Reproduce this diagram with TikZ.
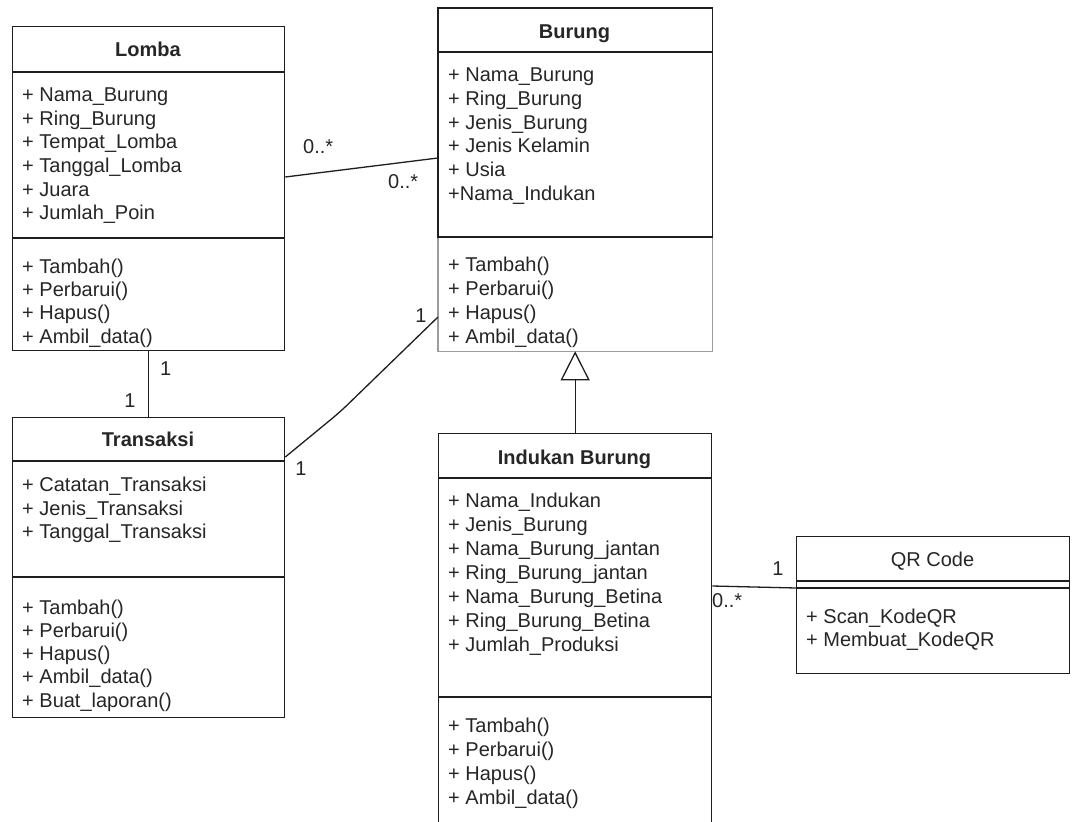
\documentclass[tikz,border=0pt]{standalone}
\usepackage{fontspec}
\setmainfont{Liberation Sans}
\usetikzlibrary{arrows.meta}
\definecolor{ink}{HTML}{1E1E1E}
\definecolor{soft}{HTML}{9C9C9C}
\definecolor{txt}{HTML}{262626}
\tikzset{
  box/.style={draw=ink, line width=1.3pt, inner sep=0pt, anchor=north west},
  sep/.style={draw=ink, line width=1.3pt},
  cname/.style={font=\fontsize{20}{24}\selectfont\bfseries, text=txt, inner sep=0pt, anchor=base},
  plainname/.style={font=\fontsize{20}{24}\selectfont, text=txt, inner sep=0pt, anchor=base},
  member/.style={font=\fontsize{20}{24}\selectfont, text=txt, anchor=base west, inner sep=0pt},
  mult/.style={font=\fontsize{20}{24}\selectfont, text=txt, inner sep=0pt},
  assoc/.style={draw=ink, line width=1.3pt},
  inherit/.style={draw=ink, line width=1.3pt, -{Triangle[open, length=29pt, width=29pt]}},
}
% one text line per member, stacked on fixed baselines
\newcommand\memberlist[5]{%
  \foreach \entry [count=\i] in {#5}
    \node[member] (#1\i) at (#2, {#3+#4*(\i-1)}) {\entry};}

\begin{document}
\begin{tikzpicture}[x=1pt, y=-1pt]
\useasboundingbox (0,0) rectangle (1072,822);
\fill[white] (0,0) rectangle (1072,822);
\clip (0,0) rectangle (1072,822);

% ---- Lomba ----
\node[box, minimum width=272pt, minimum height=324pt] (lomba) at (12,26) {};
\draw[sep] ([yshift=-46pt]lomba.north west) -- ([yshift=-46pt]lomba.north east);
\draw[sep] ([yshift=-212pt]lomba.north west) -- ([yshift=-212pt]lomba.north east);
\node[cname] (lomba-title) at (148,56) {Lomba};
\memberlist{lomba-a}{22}{101.7}{23.6}{+ Nama\_Burung, + Ring\_Burung, + Tempat\_Lomba, + Tanggal\_Lomba, + Juara, + Jumlah\_Poin}
\memberlist{lomba-m}{22}{273.3}{23.3}{+ Tambah(), + Perbarui(), + Hapus(), + Ambil\_data()}

% ---- Burung ----
\node[box, draw=none, minimum width=273pt, minimum height=342pt] (burung) at (438,8) {};
\draw[soft, line width=1.3pt] ([yshift=-229pt]burung.north west) rectangle (burung.south east);
\draw[sep] (burung.north west) rectangle ([yshift=-229pt]burung.north east);
\draw[sep] ([yshift=-44pt]burung.north west) -- ([yshift=-44pt]burung.north east);
\node[cname] (burung-title) at (574.5,38.5) {Burung};
\memberlist{burung-a}{448}{81.7}{23.7}{+ Nama\_Burung, + Ring\_Burung, + Jenis\_Burung, + Jenis Kelamin, + Usia, +Nama\_Indukan}
\memberlist{burung-m}{448}{271.7}{23.9}{+ Tambah(), + Perbarui(), + Hapus(), + Ambil\_data()}

% ---- Transaksi ----
\node[box, minimum width=272pt, minimum height=300pt] (transaksi) at (12,417) {};
\draw[sep] ([yshift=-44pt]transaksi.north west) -- ([yshift=-44pt]transaksi.north east);
\draw[sep] ([yshift=-160pt]transaksi.north west) -- ([yshift=-160pt]transaksi.north east);
\node[cname] (transaksi-title) at (148,446.7) {Transaksi};
\memberlist{transaksi-a}{22}{491.7}{23.3}{+ Catatan\_Transaksi, + Jenis\_Transaksi, + Tanggal\_Transaksi}
\memberlist{transaksi-m}{22}{614}{23.3}{+ Tambah(), + Perbarui(), + Hapus(), + Ambil\_data(), + Buat\_laporan()}

% ---- Indukan Burung ----
\node[box, minimum width=273pt, minimum height=407pt] (indukan) at (438,433) {};
\draw[sep] ([yshift=-45pt]indukan.north west) -- ([yshift=-45pt]indukan.north east);
\draw[sep] ([yshift=-264pt]indukan.north west) -- ([yshift=-264pt]indukan.north east);
\node[cname] (indukan-title) at (574.5,464.3) {Indukan Burung};
\memberlist{indukan-a}{448}{507.7}{23.9}{+ Nama\_Indukan, + Jenis\_Burung, + Nama\_Burung\_jantan, + Ring\_Burung\_jantan, + Nama\_Burung\_Betina, + Ring\_Burung\_Betina, + Jumlah\_Produksi}
\memberlist{indukan-m}{448}{732.7}{23.9}{+ Tambah(), + Perbarui(), + Hapus(), + Ambil\_data()}

% ---- QR Code ----
\node[box, minimum width=273pt, minimum height=137pt] (qr) at (796,536) {};
\draw[sep] ([yshift=-45pt]qr.north west) -- ([yshift=-45pt]qr.north east);
\draw[sep] ([yshift=-52pt]qr.north west) -- ([yshift=-52pt]qr.north east);
\node[plainname] (qr-title) at (932.5,566.7) {QR Code};
\memberlist{qr-m}{806}{623.3}{23.4}{+ Scan\_KodeQR, + Membuat\_KodeQR}

% ---- relations ----
\draw[assoc] ([yshift=-151pt]lomba.north east) -- ([yshift=-150pt]burung.north west);
\node[mult, anchor=base west] (m-lb1) at (303,153.3) {0..*};
\node[mult, anchor=base west] (m-lb2) at (388,188.3) {0..*};

\draw[assoc] (lomba.south) -- (transaksi.north);
\node[mult, anchor=base] (m-lt1) at (165.7,375) {1};
\node[mult, anchor=base] (m-lt2) at (130,407.3) {1};

\coordinate (bend) at (340,412);
\draw[assoc, rounded corners=10pt] ([yshift=-40pt]transaksi.north east) -- (bend) -- ([yshift=-309pt]burung.north west);
\node[mult, anchor=base] (m-tb1) at (421,322) {1};
\node[mult, anchor=base] (m-tb2) at (301,475) {1};

\draw[inherit] (indukan.north) -- (burung.south);

\draw[assoc] ([yshift=-153pt]indukan.north east) -- ([yshift=-52pt]qr.north west);
\node[mult, anchor=base] (m-iq1) at (778,575) {1};
\node[mult, anchor=base west] (m-iq2) at (712,607) {0..*};
\end{tikzpicture}
\end{document}
